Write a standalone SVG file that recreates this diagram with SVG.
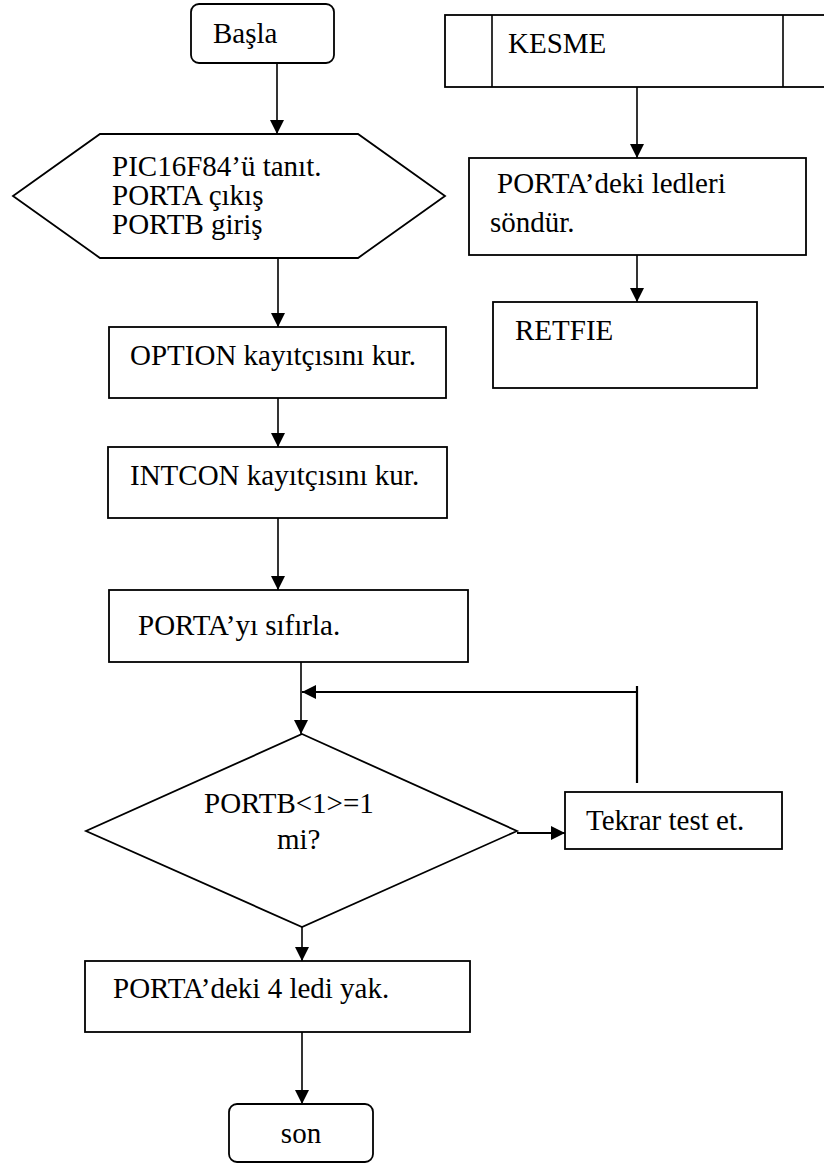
<svg xmlns="http://www.w3.org/2000/svg" width="824" height="1163" viewBox="0 0 824 1163">
  <style>
    .box { fill: #fff; stroke: #000; stroke-width: 1.8; }
    .lbl { font-family: "Liberation Serif", "Times New Roman", "DejaVu Serif", serif; font-size: 29px; fill: #000; }
    .ln { fill: none; stroke: #000; stroke-width: 1.6; }
    .thick { fill: none; stroke: #000; stroke-width: 2.2; }
  </style>
  <defs>
    <marker id="ah" viewBox="0 0 10 10" refX="10" refY="5" markerUnits="userSpaceOnUse" markerWidth="14" markerHeight="14" orient="auto">
      <path d="M0,0 L10,5 L0,10 Z" fill="#000"/>
    </marker>
  </defs>

  <!-- connectors -->
  <g id="connectors">
    <line class="ln" x1="277" y1="63" x2="277" y2="134" marker-end="url(#ah)"/>
    <line class="ln" x1="278" y1="258" x2="278" y2="327" marker-end="url(#ah)"/>
    <line class="ln" x1="278" y1="398" x2="278" y2="447" marker-end="url(#ah)"/>
    <line class="ln" x1="278" y1="518" x2="278" y2="590" marker-end="url(#ah)"/>
    <line class="ln" x1="301" y1="662" x2="301" y2="734" marker-end="url(#ah)"/>
    <line class="thick" x1="637" y1="783" x2="637" y2="686"/>
    <line class="thick" x1="637" y1="692" x2="302" y2="692" marker-end="url(#ah)"/>
    <line class="thick" x1="517" y1="833" x2="565" y2="833" marker-end="url(#ah)"/>
    <line class="ln" x1="302" y1="927" x2="302" y2="961" marker-end="url(#ah)"/>
    <line class="ln" x1="302" y1="1032" x2="302" y2="1104" marker-end="url(#ah)"/>
    <line class="ln" x1="637" y1="87" x2="637" y2="158" marker-end="url(#ah)"/>
    <line class="ln" x1="637" y1="255" x2="637" y2="302" marker-end="url(#ah)"/>
  </g>

  <!-- main routine -->
  <g id="basla">
    <rect class="box" x="191" y="4" width="143" height="59" rx="8"/>
    <text class="lbl" x="213" y="43">Başla</text>
  </g>
  <g id="init">
    <polygon class="box" points="13,196 100,134 358,134 445,196 358,258 100,258"/>
    <text class="lbl" x="112" y="176">PIC16F84’ü tanıt.</text>
    <text class="lbl" x="112" y="205">PORTA çıkış</text>
    <text class="lbl" x="112" y="234">PORTB giriş</text>
  </g>
  <g id="option">
    <rect class="box" x="109" y="327" width="337" height="71"/>
    <text class="lbl" x="130" y="365">OPTION kayıtçısını kur.</text>
  </g>
  <g id="intcon">
    <rect class="box" x="108" y="447" width="339" height="71"/>
    <text class="lbl" x="130" y="485">INTCON kayıtçısını kur.</text>
  </g>
  <g id="clear-porta">
    <rect class="box" x="109" y="590" width="359" height="72"/>
    <text class="lbl" x="138" y="635">PORTA’yı sıfırla.</text>
  </g>
  <g id="test">
    <polygon class="box" points="302,734 517,831 302,927 86,831"/>
    <text class="lbl" x="204" y="813">PORTB&lt;1&gt;=1</text>
    <text class="lbl" x="277" y="849">mi?</text>
  </g>
  <g id="retry">
    <rect class="box" x="565" y="792" width="217" height="57"/>
    <text class="lbl" x="586" y="830">Tekrar test et.</text>
  </g>
  <g id="leds-on">
    <rect class="box" x="85" y="961" width="385" height="71"/>
    <text class="lbl" x="113" y="998">PORTA’deki 4 ledi yak.</text>
  </g>
  <g id="son">
    <rect class="box" x="229" y="1104" width="144" height="58" rx="8"/>
    <text class="lbl" x="301" y="1143" text-anchor="middle">son</text>
  </g>

  <!-- interrupt routine -->
  <g id="kesme">
    <rect class="box" x="445" y="15" width="400" height="72"/>
    <line class="ln" x1="492" y1="15" x2="492" y2="87"/>
    <line class="ln" x1="783" y1="15" x2="783" y2="87"/>
    <text class="lbl" x="508" y="53">KESME</text>
  </g>
  <g id="leds-off">
    <rect class="box" x="469" y="158" width="337" height="97"/>
    <text class="lbl" x="497" y="193">PORTA’deki ledleri</text>
    <text class="lbl" x="490" y="232">söndür.</text>
  </g>
  <g id="retfie">
    <rect class="box" x="493" y="302" width="264" height="86"/>
    <text class="lbl" x="515" y="340">RETFIE</text>
  </g>
</svg>
